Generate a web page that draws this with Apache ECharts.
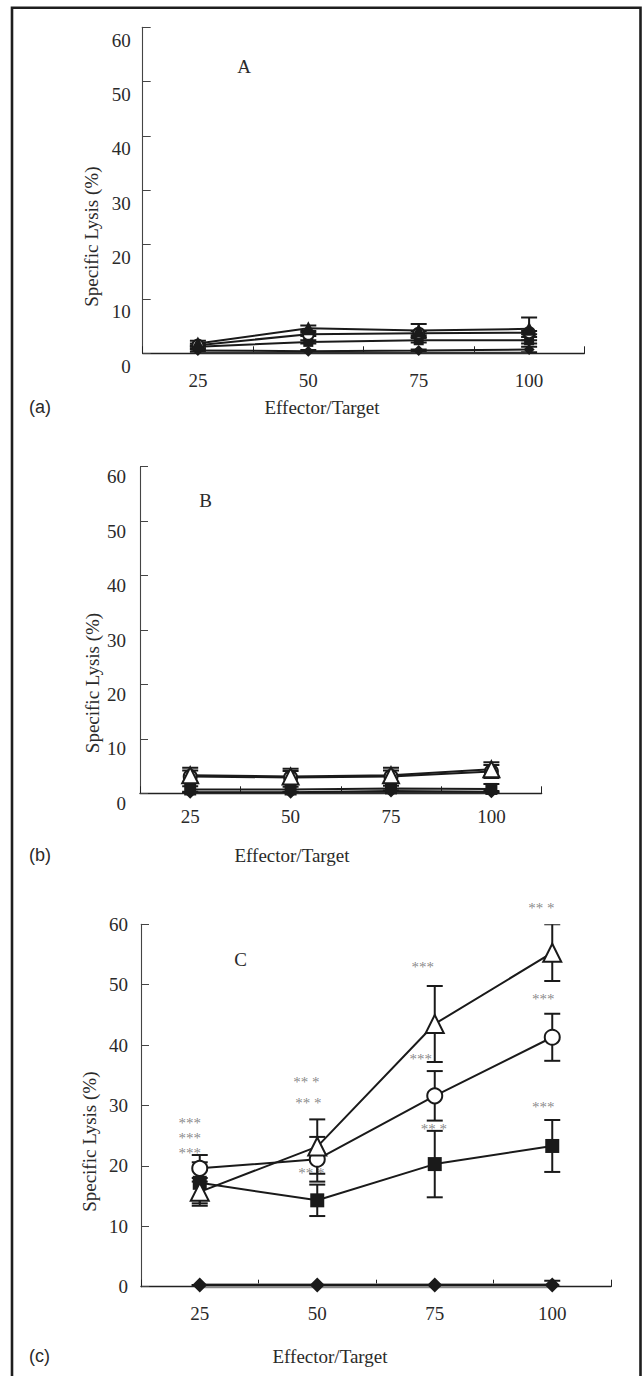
<!DOCTYPE html>
<html>
<head>
<meta charset="utf-8">
<script src="https://cdn.jsdelivr.net/npm/echarts@6/dist/echarts.min.js"></script>
<style>
html,body{margin:0;padding:0;background:#fff;}
#chart{width:642px;height:1376px;}
</style>
</head>
<body>
<div id="chart"></div>
<script>
// ---------- data ----------
const categories = ['25', '50', '75', '100'];
const yMin = 0, yMax = 60, yStep = 10;

// Panel A
const aTriangle = [1.8, 4.6, 4.2, 4.5];
const aTriangleErr = [0.5, 0.5, 1.2, 2.1];
const aCircle = [1.5, 3.5, 3.7, 3.8];
const aCircleErr = [0.3, 0.3, 0.4, 0.3];
const aSquare = [1.2, 2.1, 2.4, 2.4];
const aSquareErr = [0.3, 0.3, 0.4, 0.6];
const aDiamond = [0.5, 0.4, 0.5, 0.7];
const aDiamondErr = [0.2, 0.2, 0.2, 0.5];
const aBase = [0.1, 0.1, 0.1, 0.1];

// Panel B
const bTriangle = [3.3, 3.1, 3.3, 4.4];
const bTriangleErr = [1.4, 1.4, 1.4, 1.3];
const bCircle = [3.1, 2.9, 3.1, 4.0];
const bCircleErr = [1.1, 1.2, 1.1, 1.2];
const bSquare = [0.7, 0.7, 0.9, 0.8];
const bSquareErr = [0.6, 0.5, 0.5, 0.9];
const bDiamond = [0.2, 0.2, 0.4, 0.3];
const bDiamondErr = [0.1, 0.1, 0.1, 0.1];
const bBase = [0.1, 0.1, 0.1, 0.1];

// Panel C
const cTriangle = [15.7, 23.2, 43.5, 55.3];
const cTriangleErr = [2.3, 4.5, 6.3, 4.7];
const cCircle = [19.6, 21.1, 31.6, 41.3];
const cCircleErr = [2.2, 3.7, 4.1, 3.9];
const cSquare = [17.2, 14.3, 20.3, 23.3];
const cSquareErr = [3.4, 2.6, 5.5, 4.3];
const cDiamond = [0.3, 0.3, 0.3, 0.3];
const cDiamondErr = [0, 0, 0, 0.7];
const cBase = [0.15, 0.15, 0.15, 0.15];

// Panel C significance marks
const cSigText = ['***\n***\n***', '** *', '** *', '** *', '***', '***', '** *', '** *', '***', '***'];
const cSigCat = [0, 1, 1, 1, 2, 2, 2, 3, 3, 3];
const cSigY = [25.3, 34.6, 31.1, 19.5, 53.6, 38.4, 26.7, 63.4, 48.3, 30.4];

// ---------- styles ----------
const SERIF = 'Liberation Serif, Times New Roman, serif';
const SANS = 'Liberation Sans, Arial, sans-serif';
const INK = '#1a1a1a';
const sigDx = [-10, -11, -9, -6, -12, -14, -1, -11, -9, -9];

const grids = [
  {left: 142.7, top: 27.3, width: 441.6, height: 326},
  {left: 140, top: 466.7, width: 401.6, height: 326.6},
  {left: 141, top: 924.3, width: 470, height: 362.4}
];
const yLabelShift = [13, 10, 0];
const yLabelMargin = [12, 14, 13];
const xLabelMargin = [17.7, 14.4, 17.3];
const markerSize = [11, 13, 15];

function xAxisFor(g) {
  return {
    type: 'category', gridIndex: g, data: categories, boundaryGap: true,
    axisLine: {show: true, lineStyle: {color: '#222', width: 1.4}},
    axisTick: {show: true, inside: true, length: 7, lineStyle: {color: '#222', width: 1}},
    axisLabel: {fontFamily: SERIF, fontSize: 19, color: '#2a2a2a', margin: xLabelMargin[g], lineHeight: 18},
    splitLine: {show: false}
  };
}
function yAxisFor(g) {
  const sh = yLabelShift[g];
  return {
    type: 'value', gridIndex: g, min: yMin, max: yMax, interval: yStep,
    axisLine: {show: true, lineStyle: {color: '#444', width: 1.1}},
    axisTick: {show: true, inside: true, length: 8, lineStyle: {color: '#444', width: 1}},
    axisLabel: sh > 0 ?
      {fontFamily: SERIF, fontSize: 19, color: '#2a2a2a', margin: yLabelMargin[g], verticalAlign: 'top', lineHeight: 2 * sh} :
      {fontFamily: SERIF, fontSize: 19, color: '#2a2a2a', margin: yLabelMargin[g]},
    splitLine: {show: false}
  };
}

function errSeries(g, means, errs) {
  return {
    type: 'custom', xAxisIndex: g, yAxisIndex: g, z: 2, silent: true, clip: true,
    data: means.map((m, i) => [i, m - errs[i], m + errs[i]]),
    renderItem: function (params, api) {
      const x = api.coord([api.value(0), 0])[0];
      const lo = api.coord([api.value(0), Math.max(0, api.value(1))])[1];
      const hi = api.coord([api.value(0), api.value(2)])[1];
      const w = 8;
      const st = {stroke: INK, lineWidth: 2};
      return {type: 'group', children: [
        {type: 'line', shape: {x1: x, y1: lo, x2: x, y2: hi}, style: st},
        {type: 'line', shape: {x1: x - w, y1: hi, x2: x + w, y2: hi}, style: st},
        {type: 'line', shape: {x1: x - w, y1: lo, x2: x + w, y2: lo}, style: st}
      ]};
    }
  };
}
function lineSeries(g, data, symbol, filled, size, color, width) {
  return {
    type: 'line', xAxisIndex: g, yAxisIndex: g, data: data, z: 3,
    symbol: symbol, symbolSize: size, showSymbol: symbol !== 'none',
    lineStyle: {color: color || INK, width: width || 2},
    itemStyle: {color: filled ? INK : '#fff', borderColor: INK, borderWidth: filled ? 0 : 2, opacity: 1},
    emphasis: {disabled: true}, animation: false
  };
}

function panel(g, tri, triE, cir, cirE, sq, sqE, dia, diaE, base, baseColor, baseWidth, triFilled) {
  const s = markerSize[g];
  return [
    lineSeries(g, base, 'none', true, 0, baseColor, baseWidth),
    errSeries(g, dia, diaE), errSeries(g, sq, sqE), errSeries(g, cir, cirE), errSeries(g, tri, triE),
    lineSeries(g, dia, 'diamond', true, s),
    lineSeries(g, sq, 'rect', true, s - 1),
    lineSeries(g, cir, 'circle', false, s),
    lineSeries(g, tri, 'triangle', !!triFilled, s + 3)
  ];
}

const series = [].concat(
  panel(0, aTriangle, aTriangleErr, aCircle, aCircleErr, aSquare, aSquareErr, aDiamond, aDiamondErr, aBase, '#333', 2, true),
  panel(1, bTriangle, bTriangleErr, bCircle, bCircleErr, bSquare, bSquareErr, bDiamond, bDiamondErr, bBase, '#333', 2),
  panel(2, cTriangle, cTriangleErr, cCircle, cCircleErr, cSquare, cSquareErr, cDiamond, cDiamondErr, cBase, '#8a8a8a', 5)
);

series.push({
  type: 'scatter', xAxisIndex: 2, yAxisIndex: 2, symbolSize: 1, clip: false, z: 1,
  itemStyle: {color: 'rgba(0,0,0,0)'},
  data: cSigCat.map((c, i) => ({
    value: [c, cSigY[i]],
    label: {show: true, position: 'inside', formatter: cSigText[i], offset: [sigDx[i], 4],
      fontFamily: SERIF, fontSize: 15, lineHeight: 15, color: '#6a6a6a'}
  }))
});

function txt(x, y, t, font, rot, align) {
  return {type: 'text', x: x, y: y, rotation: rot || 0,
    style: {text: t, font: font, fill: '#2a2a2a', textAlign: align || 'center', textVerticalAlign: 'middle',
      align: align || 'center', verticalAlign: 'middle'}};
}
const serif19 = '19px ' + SERIF;
const graphic = [
  {type: 'rect', shape: {x: 12, y: 7.7, width: 628.5, height: 1400},
    style: {fill: 'none', stroke: '#1e1e1e', lineWidth: 2.6}},
  txt(244, 66.7, 'A', serif19), txt(205.7, 500.7, 'B', serif19), txt(240.5, 959.3, 'C', serif19),
  txt(91, 236.7, 'Specific Lysis (%)', serif19, Math.PI / 2),
  txt(92.7, 683, 'Specific Lysis (%)', serif19, Math.PI / 2),
  txt(89.6, 1141.7, 'Specific Lysis (%)', serif19, Math.PI / 2),
  txt(322, 407, 'Effector/Target', serif19), txt(292, 855, 'Effector/Target', serif19),
  txt(330, 1356, 'Effector/Target', serif19),
  txt(29, 407, '(a)', '18px ' + SANS, 0, 'left'),
  txt(29, 855, '(b)', '18px ' + SANS, 0, 'left'),
  txt(29, 1356, '(c)', '18px ' + SANS, 0, 'left')
];

const chart = echarts.init(document.getElementById('chart'), null, {renderer: 'svg'});
chart.setOption({
  animation: false,
  backgroundColor: '#fff',
  grid: grids,
  xAxis: [xAxisFor(0), xAxisFor(1), xAxisFor(2)],
  yAxis: [yAxisFor(0), yAxisFor(1), yAxisFor(2)],
  series: series,
  graphic: graphic
});
</script>
</body>
</html>
